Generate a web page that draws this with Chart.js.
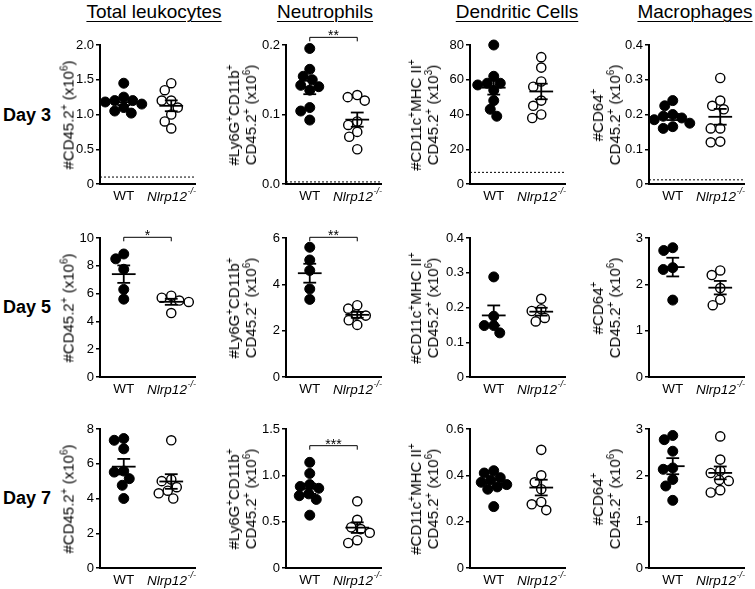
<!DOCTYPE html>
<html>
<head>
<meta charset="utf-8">
<script src="https://cdn.jsdelivr.net/npm/chart.js@4.4.0/dist/chart.umd.min.js"></script>
<style>
body{margin:0;background:#fff;width:755px;height:589px;overflow:hidden;position:relative;font-family:"Liberation Sans",Arial,Helvetica,sans-serif;color:#000}
.coluna{position:absolute;top:2px;font-size:19px;line-height:19px;text-decoration:underline;text-decoration-thickness:1px;text-underline-offset:3px;transform:translateX(-50%);white-space:nowrap}
.dia{position:absolute;left:3px;font-size:18px;line-height:18px;font-weight:bold;transform:translateY(-50%);white-space:nowrap}
.tituloY{position:absolute;font-size:15px;line-height:17px;text-align:center;white-space:nowrap;transform:translate(-50%,-50%) rotate(-90deg)}
.tituloY sup{font-size:10px;line-height:0}
canvas{position:absolute}
</style>
</head>
<body>
<script>
// categorias
var grupos = ["WT", "Nlrp12"];
var colunas = ["Total leukocytes", "Neutrophils", "Dendritic Cells", "Macrophages"];
var dias = ["Day 3", "Day 5", "Day 7"];

// Day 3
var d3TotalWT = [1.45, 1.25, 1.2, 1.2, 1.18, 1.15, 1.1, 1.05, 1.02];
var d3TotalKO = [1.45, 1.35, 1.2, 1.2, 1.1, 1.0, 0.9, 0.8];
var d3NeutWT = [0.195, 0.165, 0.155, 0.15, 0.142, 0.14, 0.135, 0.11, 0.105, 0.092];
var d3NeutKO = [0.128, 0.125, 0.12, 0.09, 0.085, 0.075, 0.068, 0.05];
var d3DcWT = [80, 62, 58, 58, 57, 54, 48, 43, 39];
var d3DcKO = [73, 67, 59, 56, 48, 45, 40, 38];
var d3MacWT = [0.24, 0.225, 0.2, 0.195, 0.19, 0.185, 0.175, 0.165, 0.16];
var d3MacKO = [0.305, 0.24, 0.225, 0.215, 0.16, 0.16, 0.12, 0.122];

// Day 5
var d5TotalWT = [8.85, 8.5, 7.75, 6.3, 5.6];
var d5TotalKO = [5.85, 5.7, 5.5, 5.4, 4.6];
var d5NeutWT = [5.6, 5.05, 4.6, 3.8, 3.35];
var d5NeutKO = [3.1, 2.95, 2.7, 2.65, 2.45, 2.25];
var d5DcWT = [0.288, 0.175, 0.148, 0.148, 0.127];
var d5DcKO = [0.225, 0.195, 0.19, 0.17, 0.16];
var d5MacWT = [2.79, 2.73, 2.36, 2.32, 1.66];
var d5MacKO = [2.3, 2.2, 1.92, 1.67, 1.55];

// Day 7
var d7TotalWT = [7.45, 7.35, 6.86, 5.58, 5.52, 5.14, 4.76, 4.0];
var d7TotalKO = [7.35, 5.1, 5.0, 4.65, 4.45, 4.3, 4.0];
var d7NeutWT = [1.14, 1.02, 0.9, 0.88, 0.86, 0.8, 0.78, 0.74, 0.57];
var d7NeutKO = [0.72, 0.52, 0.44, 0.42, 0.38, 0.3, 0.27];
var d7DcWT = [0.42, 0.41, 0.39, 0.38, 0.37, 0.36, 0.35, 0.34, 0.265];
var d7DcKO = [0.51, 0.4, 0.37, 0.34, 0.285, 0.275, 0.25];
var d7MacWT = [2.86, 2.77, 2.52, 2.16, 2.13, 1.91, 1.77, 1.46];
var d7MacKO = [2.84, 2.34, 2.1, 2.05, 1.9, 1.88, 1.68, 1.63];

// rotulos dos eixos y
var ticksD3Total = ["0", "0.5", "1.0", "1.5", "2.0"];
var ticksD3Neut = ["0.0", "0.1", "0.2"];
var ticksD3Dc = ["0", "20", "40", "60", "80"];
var ticksD3Mac = ["0", "0.1", "0.2", "0.3", "0.4"];
var ticksD5Total = ["0", "2", "4", "6", "8", "10"];
var ticksD5Neut = ["0", "2", "4", "6"];
var ticksD5Dc = ["0", "0.1", "0.2", "0.3", "0.4"];
var ticksD5Mac = ["0", "1", "2", "3"];
var ticksD7Total = ["0", "2", "4", "6", "8"];
var ticksD7Neut = ["0", "0.5", "1.0", "1.5"];
var ticksD7Dc = ["0", "0.2", "0.4", "0.6"];
var ticksD7Mac = ["0", "1", "2", "3"];

// limite de deteccao (linha pontilhada) so no dia 3
var limiteD3 = [0.1, 0.003, 6.7, 0.012];

// significancia
var sigTexto = [[null, "**", null, null], ["*", "**", null, null], [null, "***", null, null]];
var sigAltura = [[null, 0.211, null, null], [10.05, 6.03, null, null], [null, 1.32, null, null]];

var titulosY = [
    "#CD45.2<sup>+</sup> (x10<sup>6</sup>)",
    "#Ly6G<sup>+</sup>CD11b<sup>+</sup><br>CD45.2<sup>+</sup> (x10<sup>6</sup>)",
    "#CD11c<sup>+</sup>MHC II<sup>+</sup><br>CD45.2<sup>+</sup> (x10<sup>6</sup>)",
    "#CD64<sup>+</sup><br>CD45.2<sup>+</sup> (x10<sup>6</sup>)"
];
var tituloDcD3 = "#CD11c<sup>+</sup>MHC II<sup>+</sup><br>CD45.2<sup>+</sup> (x10<sup>3</sup>)";

var dadosWT = [[d3TotalWT, d3NeutWT, d3DcWT, d3MacWT], [d5TotalWT, d5NeutWT, d5DcWT, d5MacWT], [d7TotalWT, d7NeutWT, d7DcWT, d7MacWT]];
var dadosKO = [[d3TotalKO, d3NeutKO, d3DcKO, d3MacKO], [d5TotalKO, d5NeutKO, d5DcKO, d5MacKO], [d7TotalKO, d7NeutKO, d7DcKO, d7MacKO]];
var ticksY = [[ticksD3Total, ticksD3Neut, ticksD3Dc, ticksD3Mac], [ticksD5Total, ticksD5Neut, ticksD5Dc, ticksD5Mac], [ticksD7Total, ticksD7Neut, ticksD7Dc, ticksD7Mac]];

// layout
var eixoX = [100, 286, 470, 649];
var topoPlot = [45, 238, 429];
var LARG = 95, ALT = 139;
var ESQ = 40, SUP = 20, DIR = 8, INF = 22;
var centrosTitulo = [154, 325, 517, 695];
var desvioTituloY = [-32, -44.5, -46, -43];
var centroDia = [115, 307, 498];
var FONTE = '"Liberation Sans", Arial, Helvetica, sans-serif';

function media(v) {
    return v.reduce(function(a, b) { return a + b; }, 0) / v.length;
}

function erroPadrao(v) {
    var m = media(v);
    var s = v.reduce(function(a, b) { return a + (b - m) * (b - m); }, 0) / (v.length - 1);
    return Math.sqrt(s) / Math.sqrt(v.length);
}

// distribui os pontos lado a lado (beeswarm simples, com leve sobreposicao)
function enxame(valores, centro, ymax) {
    var pxY = ALT / ymax, pxX = LARG / 4, diam = 9.3;
    var colocados = [];
    return valores.slice().sort(function(a, b) { return b - a; }).map(function(v) {
        var y = v * pxY;
        for (var k = 0; k < 400; k++) {
            var off = (k % 2 === 0 ? 1 : -1) * Math.ceil(k / 2) * 0.5;
            var ok = colocados.every(function(p) {
                var dx = p.x - off, dy = p.y - y;
                return dx * dx + dy * dy >= diam * diam;
            });
            if (ok) break;
        }
        colocados.push({x: off, y: y});
        return {x: centro + off / pxX, y: v};
    });
}

function segmento(x1, y1, x2, y2) {
    return {
        data: [{x: x1, y: y1}, {x: x2, y: y2}],
        showLine: true, borderColor: "#000", borderWidth: 1.8,
        pointRadius: 0, order: 0
    };
}

function barrasMedia(valores, centro) {
    var m = media(valores), e = erroPadrao(valores);
    return [
        segmento(centro - 0.5, m, centro + 0.5, m),
        segmento(centro, m - e, centro, m + e),
        segmento(centro - 0.27, m + e, centro + 0.27, m + e),
        segmento(centro - 0.27, m - e, centro + 0.27, m - e)
    ];
}

var rotulosPlugin = {
    id: "rotulos",
    afterDraw: function(chart, args, opts) {
        var ctx = chart.ctx, xs = chart.scales.x, ys = chart.scales.y;
        var base = chart.chartArea.bottom + 6;
        ctx.save();
        ctx.fillStyle = "#000";
        ctx.textBaseline = "top";
        ctx.textAlign = "center";
        ctx.font = "13.5px " + FONTE;
        ctx.fillText(grupos[0], xs.getPixelForValue(1), base);

        ctx.font = "italic 13.5px " + FONTE;
        var w1 = ctx.measureText(grupos[1]).width;
        ctx.font = "italic 9px " + FONTE;
        var w2 = ctx.measureText("-/-").width;
        var x0 = xs.getPixelForValue(3) - (w1 + w2) / 2;
        ctx.textAlign = "left";
        ctx.font = "italic 13.5px " + FONTE;
        ctx.fillText(grupos[1], x0, base);
        ctx.font = "italic 9px " + FONTE;
        ctx.fillText("-/-", x0 + w1 + 0.5, base - 3);

        if (opts.texto) {
            var y = ys.getPixelForValue(opts.altura);
            var xa = xs.getPixelForValue(1), xb = xs.getPixelForValue(3);
            ctx.strokeStyle = "#000";
            ctx.lineWidth = 1;
            ctx.beginPath();
            ctx.moveTo(xa, y + 4);
            ctx.lineTo(xa, y);
            ctx.lineTo(xb, y);
            ctx.lineTo(xb, y + 4);
            ctx.stroke();
            ctx.textAlign = "center";
            ctx.textBaseline = "alphabetic";
            ctx.font = "14px " + FONTE;
            ctx.fillText(opts.texto, (xa + xb) / 2, y + 3);
        }
        ctx.restore();
    }
};

function criarPainel(lin, col) {
    var rotulos = ticksY[lin][col];
    var valores = rotulos.map(Number);
    var ymax = valores[valores.length - 1];
    var wt = dadosWT[lin][col], ko = dadosKO[lin][col];

    var canvas = document.createElement("canvas");
    canvas.width = ESQ + LARG + DIR;
    canvas.height = SUP + ALT + INF;
    canvas.style.left = (eixoX[col] - ESQ) + "px";
    canvas.style.top = (topoPlot[lin] - SUP) + "px";
    document.body.appendChild(canvas);

    var datasets = [];
    if (lin === 0) {
        datasets.push({
            data: [{x: 0, y: limiteD3[col]}, {x: 4, y: limiteD3[col]}],
            showLine: true, borderColor: "#000", borderWidth: 1, borderDash: [2, 2],
            pointRadius: 0, order: 3
        });
    }
    datasets.push({
        data: enxame(wt, 1, ymax), pointRadius: 5, borderWidth: 1, clip: false,
        backgroundColor: "#000", borderColor: "#000", order: 2
    });
    datasets.push({
        data: enxame(ko, 3, ymax), pointRadius: 4.6, borderWidth: 1.4, clip: false,
        backgroundColor: "#fff", borderColor: "#000", order: 2
    });
    datasets = datasets.concat(barrasMedia(wt, 1), barrasMedia(ko, 3));

    new Chart(canvas.getContext("2d"), {
        type: "scatter",
        data: {datasets: datasets},
        options: {
            responsive: false,
            animation: false,
            devicePixelRatio: 1,
            layout: {padding: {top: SUP, right: DIR, left: 0, bottom: 0}},
            plugins: {
                legend: {display: false},
                tooltip: {enabled: false},
                rotulos: {texto: sigTexto[lin][col], altura: sigAltura[lin][col]}
            },
            scales: {
                x: {
                    type: "linear", min: 0, max: 4,
                    afterFit: function(s) { s.height = INF; },
                    afterBuildTicks: function(s) { s.ticks = [{value: 1}, {value: 3}]; },
                    ticks: {display: false},
                    grid: {drawOnChartArea: false, drawTicks: false},
                    border: {color: "#000", width: 2}
                },
                y: {
                    type: "linear", min: 0, max: ymax,
                    afterFit: function(s) { s.width = ESQ; },
                    afterBuildTicks: function(s) {
                        s.ticks = valores.map(function(v) { return {value: v}; });
                    },
                    ticks: {
                        color: "#000", padding: 2,
                        font: {family: FONTE, size: 13},
                        callback: function(v) { return rotulos[valores.indexOf(v)]; }
                    },
                    grid: {drawOnChartArea: false, tickLength: 4, color: "#000", lineWidth: 1.5},
                    border: {color: "#000", width: 2}
                }
            }
        },
        plugins: [rotulosPlugin]
    });

    var titulo = document.createElement("div");
    titulo.className = "tituloY";
    titulo.innerHTML = (lin === 0 && col === 2) ? tituloDcD3 : titulosY[col];
    titulo.style.left = (eixoX[col] + desvioTituloY[col]) + "px";
    titulo.style.top = (topoPlot[lin] + ALT / 2) + "px";
    document.body.appendChild(titulo);
}

colunas.forEach(function(nome, i) {
    var d = document.createElement("div");
    d.className = "coluna";
    d.textContent = nome;
    d.style.left = centrosTitulo[i] + "px";
    document.body.appendChild(d);
});

dias.forEach(function(nome, i) {
    var d = document.createElement("div");
    d.className = "dia";
    d.textContent = nome;
    d.style.top = centroDia[i] + "px";
    document.body.appendChild(d);
});

for (var lin = 0; lin < 3; lin++) {
    for (var col = 0; col < 4; col++) {
        criarPainel(lin, col);
    }
}
</script>
</body>
</html>
